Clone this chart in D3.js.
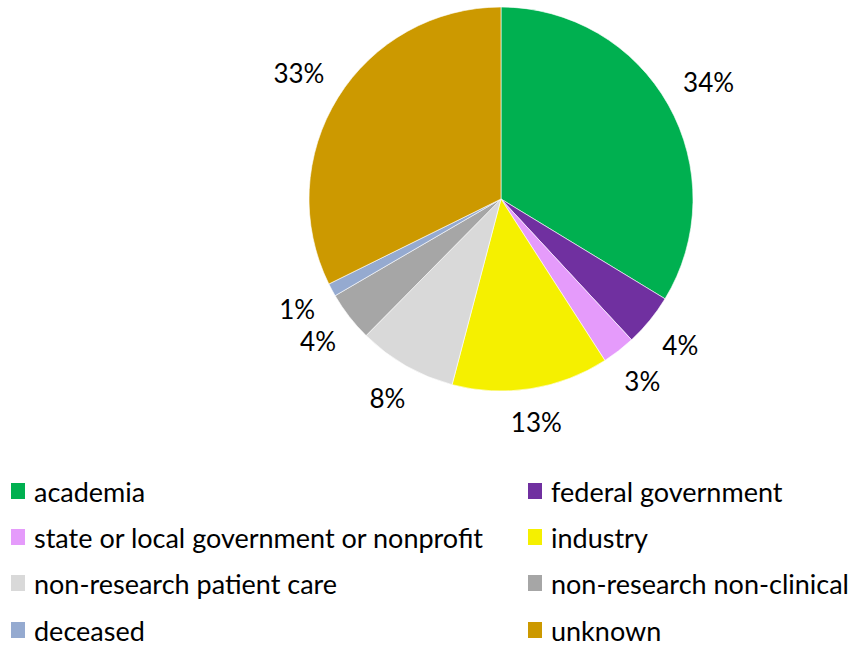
<!DOCTYPE html>
<html>
<head>
<meta charset="utf-8">
<script src="https://cdn.jsdelivr.net/npm/d3@7"></script>
<style>
  body { margin: 0; background: #fff; }
  text { font-family: Lato, "Open Sans", sans-serif; fill: #000; }
</style>
</head>
<body>
<script>
// datos del gráfico
const categories = ["academia", "federal government", "state or local government or nonprofit",
  "industry", "non-research patient care", "non-research non-clinical", "deceased", "unknown"];
const values = [33.7, 4.4, 2.8, 13.2, 8.3, 4.2, 1.1, 32.3];
const pctLabels = ["34%", "4%", "3%", "13%", "8%", "4%", "1%", "33%"];
const colors = ["#00b050", "#7030a0", "#e59bfb", "#f5f000", "#d9d9d9", "#a6a6a6", "#95aad0", "#cc9900"];

const width = 856, height = 646;
const cx = 501, cy = 199, radius = 192;

const svg = d3.select("body").append("svg")
  .attr("width", width)
  .attr("height", height);

const data = categories.map((c, i) => ({ name: c, value: values[i], label: pctLabels[i], color: colors[i] }));

const pie = d3.pie().value(d => d.value).sort(null);
const arc = d3.arc().innerRadius(0).outerRadius(radius);

const g = svg.append("g").attr("transform", `translate(${cx},${cy})`);
const arcs = pie(data);

g.selectAll("path")
  .data(arcs)
  .enter().append("path")
  .attr("d", arc)
  .attr("fill", d => d.data.color)
  .attr("stroke", "#fff")
  .attr("stroke-width", 0.6);

// etiquetas de porcentaje fuera del pastel
const lbl = g.selectAll(".pct")
  .data(arcs)
  .enter().append("text")
  .attr("class", "pct")
  .attr("font-size", "26px")
  .attr("text-anchor", "middle")
  .attr("dominant-baseline", "central")
  .text(d => d.data.label);

lbl.each(function(d) {
  const w = this.getComputedTextLength();
  const h = 24;
  const a = (d.startAngle + d.endAngle) / 2;
  const s = Math.sin(a), c = Math.cos(a);
  const r = radius + 18 + Math.abs(s) * w / 2 + Math.abs(c) * h / 2;
  d3.select(this).attr("x", r * s).attr("y", -r * c);
});

// leyenda
const legend = svg.append("g");
const rowY = [491, 537, 583, 630];
const colX = [11, 528];

data.forEach((d, i) => {
  const x = colX[i % 2], y = rowY[Math.floor(i / 2)];
  legend.append("rect")
    .attr("x", x).attr("y", y - 8)
    .attr("width", 14).attr("height", 16)
    .attr("fill", d.color);
  legend.append("text")
    .attr("x", x + 23).attr("y", y)
    .attr("font-size", "27px")
    .attr("dominant-baseline", "central")
    .text(d.name);
});
</script>
</body>
</html>
